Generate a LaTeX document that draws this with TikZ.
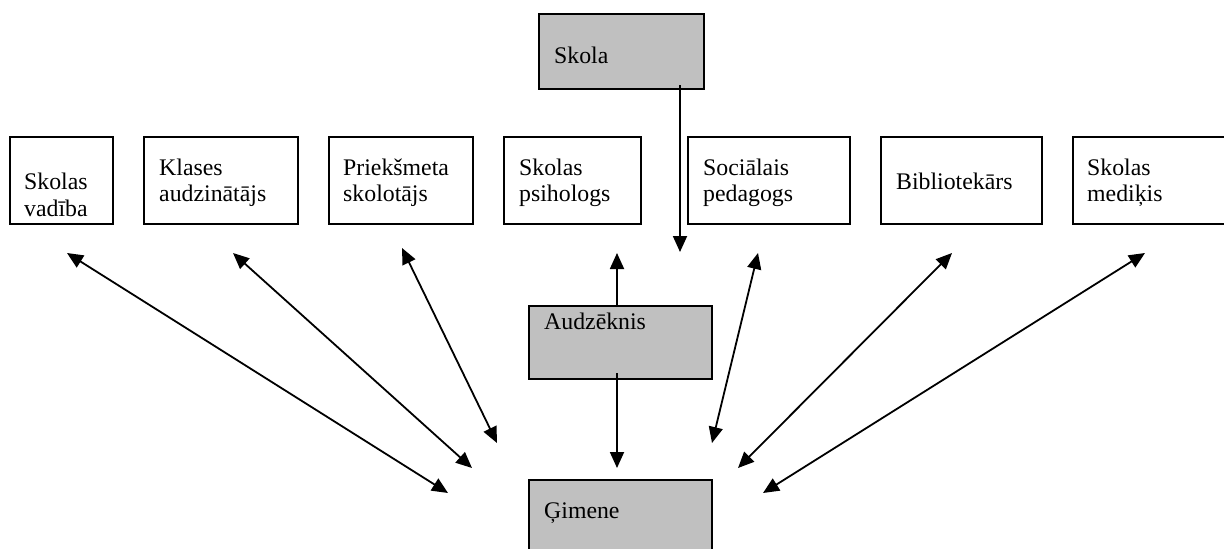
\documentclass[tikz,border=0pt]{standalone}
\usepackage{fontspec}
\setmainfont{Liberation Serif}
\usetikzlibrary{arrows.meta}
\begin{document}
\begin{tikzpicture}[x=1pt,y=-1pt,
  box/.style={draw=black,line width=2pt,fill=white,inner sep=0pt,minimum height=87pt},
  gbox/.style={draw=black,line width=2pt,fill={rgb,255:red,192;green,192;blue,192},inner sep=0pt},
  txt/.style={anchor=base west,inner sep=0pt,font=\fontsize{23.8}{26.7}\selectfont},
  conn/.style={line width=1.8pt,-{Triangle[length=16pt,width=14pt]}},
  dconn/.style={line width=1.8pt,{Triangle[length=16pt,width=14pt]}-{Triangle[length=16pt,width=14pt]}}]
\useasboundingbox (0,0) rectangle (1224,549);
\clip (0,0) rectangle (1224,549);
% top box
\node[gbox,minimum width=165pt,minimum height=75pt] (skola) at (621.5,51.5) {};
\node[txt] (tskola) at (554,63) {Skola};
% row of boxes
\node[box,minimum width=103pt] (b1) at (61.5,180.5) {};
\node[box,minimum width=154pt] (b2) at (221,180.5) {};
\node[box,minimum width=144pt] (b3) at (401,180.5) {};
\node[box,minimum width=137pt] (b4) at (572.5,180.5) {};
\node[box,minimum width=162pt] (b5) at (769,180.5) {};
\node[box,minimum width=161pt] (b6) at (961.5,180.5) {};
\node[box,minimum width=167pt] (b7) at (1156.5,180.5) {};
\node[txt] (t1a) at (24,189) {Skolas};
\node[txt] (t1b) at (24,216) {vadība};
\node[txt] (t2a) at (159,175) {Klases};
\node[txt] (t2b) at (159,201) {audzinātājs};
\node[txt] (t3a) at (343,175) {Priekšmeta};
\node[txt] (t3b) at (343,201) {skolotājs};
\node[txt] (t4a) at (519,175) {Skolas};
\node[txt] (t4b) at (519,201) {psihologs};
\node[txt] (t5a) at (703,175) {Sociālais};
\node[txt] (t5b) at (703,201) {pedagogs};
\node[txt] (t6a) at (896,189) {Bibliotekārs};
\node[txt] (t7a) at (1087,175) {Skolas};
\node[txt] (t7b) at (1087,201) {mediķis};
% middle and bottom
\node[gbox,minimum width=183pt,minimum height=73pt] (audz) at (620.5,342.5) {};
\node[txt] (taudz) at (544,329) {Audzēknis};
\node[gbox,minimum width=183pt,minimum height=80pt] (gim) at (620.5,520) {};
\node[txt] (tgim) at (544,518) {Ģimene};
% connector end points
\coordinate (s0) at (680,85);
\coordinate (s1) at (680,252);
\coordinate (a0) at (617,307);
\coordinate (a1) at (617,253);
\coordinate (a2) at (617,373);
\coordinate (a3) at (617,468);
\coordinate (p1) at (67,253);   \coordinate (q1) at (448,493);
\coordinate (p2) at (233,253);  \coordinate (q2) at (472,468);
\coordinate (p3) at (402,248);  \coordinate (q3) at (497,443);
\coordinate (p5) at (758,253);  \coordinate (q5) at (712,443);
\coordinate (p6) at (952,253);  \coordinate (q6) at (738,468);
\coordinate (p7) at (1145,253); \coordinate (q7) at (763,493);
% connectors
\draw[conn] (s0) -- (s1);
\draw[conn] (a0) -- (a1);
\draw[conn] (a2) -- (a3);
\draw[dconn] (p1) -- (q1);
\draw[dconn] (p2) -- (q2);
\draw[dconn] (p3) -- (q3);
\draw[dconn] (p5) -- (q5);
\draw[dconn] (p6) -- (q6);
\draw[dconn] (p7) -- (q7);
\end{tikzpicture}
\end{document}
